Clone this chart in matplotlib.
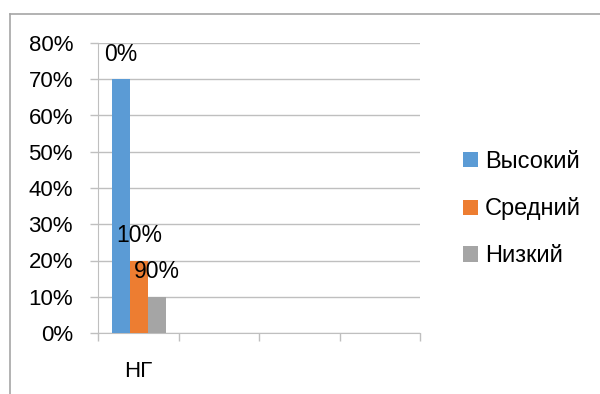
import numpy as np
import matplotlib.pyplot as plt
from matplotlib.lines import Line2D
from matplotlib.patches import Patch

plt.rcParams['font.family'] = ['Liberation Sans', 'DejaVu Sans']

# chart data
categories = ["НГ", "", "", ""]
series_names = ["Высокий", "Средний", "Низкий"]
high = [0.70]
mid = [0.20]
low = [0.10]
data_labels = ["0%", "10%", "90%"]   # labels as printed on the original
colors = ["#5B9BD5", "#ED7D31", "#A5A5A5"]

fig = plt.figure(figsize=(6.0, 3.94), dpi=100)
ax = fig.add_axes([98 / 600, 61 / 394, 322 / 600, 290 / 394])

width = 0.2236
offsets = [-width, 0.0, width]
series = [high, mid, low]
grid_c = "#BFBFBF"

for i, vals in enumerate(series):
    x = np.arange(len(vals)) + offsets[i] + 0.01
    bars = ax.bar(x, vals, width=width, color=colors[i], zorder=3)
    for b in bars:
        ax.annotate(data_labels[i], (b.get_x() + b.get_width() / 2, b.get_height()),
                    xytext=(0, 18), textcoords="offset points",
                    ha="center", va="center", fontsize=16.5, zorder=4)

ax.set_xlim(-0.5, len(categories) - 0.5)
ax.set_ylim(0, 0.8)
ax.set_yticks(np.arange(0, 0.81, 0.1))
ax.set_yticklabels([f"{int(round(v * 100))}%" for v in np.arange(0, 0.81, 0.1)], fontsize=16)
ax.yaxis.grid(True, color=grid_c, linewidth=1, zorder=0)

ax.set_xticks(np.arange(len(categories) + 1) - 0.5, minor=True)
ax.set_xticks(np.arange(len(categories)))
ax.set_xticklabels(categories, fontsize=16)
ax.tick_params(axis="x", which="major", length=0, pad=20)
ax.tick_params(axis="x", which="minor", length=6, color=grid_c, width=1)
ax.tick_params(axis="y", length=6, color=grid_c, width=1, pad=12)

for s in ["top", "right"]:
    ax.spines[s].set_visible(False)
ax.spines["left"].set_color(grid_c)
ax.spines["bottom"].set_color(grid_c)

handles = [Patch(facecolor=c, edgecolor="none") for c in colors]
fig.legend(handles, series_names, loc="center left", bbox_to_anchor=(442 / 600, 1 - 209 / 394),
           frameon=False, fontsize=17, handlelength=0.62, handleheight=0.62,
           handletextpad=0.3, labelspacing=1.05)

# outer chart border (top and left only visible)
fig.add_artist(Line2D([10 / 600, 1.0], [1 - 14 / 394, 1 - 14 / 394], color="#A6A6A6", linewidth=1.2))
fig.add_artist(Line2D([10 / 600, 10 / 600], [0, 1 - 14 / 394], color="#A6A6A6", linewidth=1.2))

fig.savefig("out.png", dpi=100)
